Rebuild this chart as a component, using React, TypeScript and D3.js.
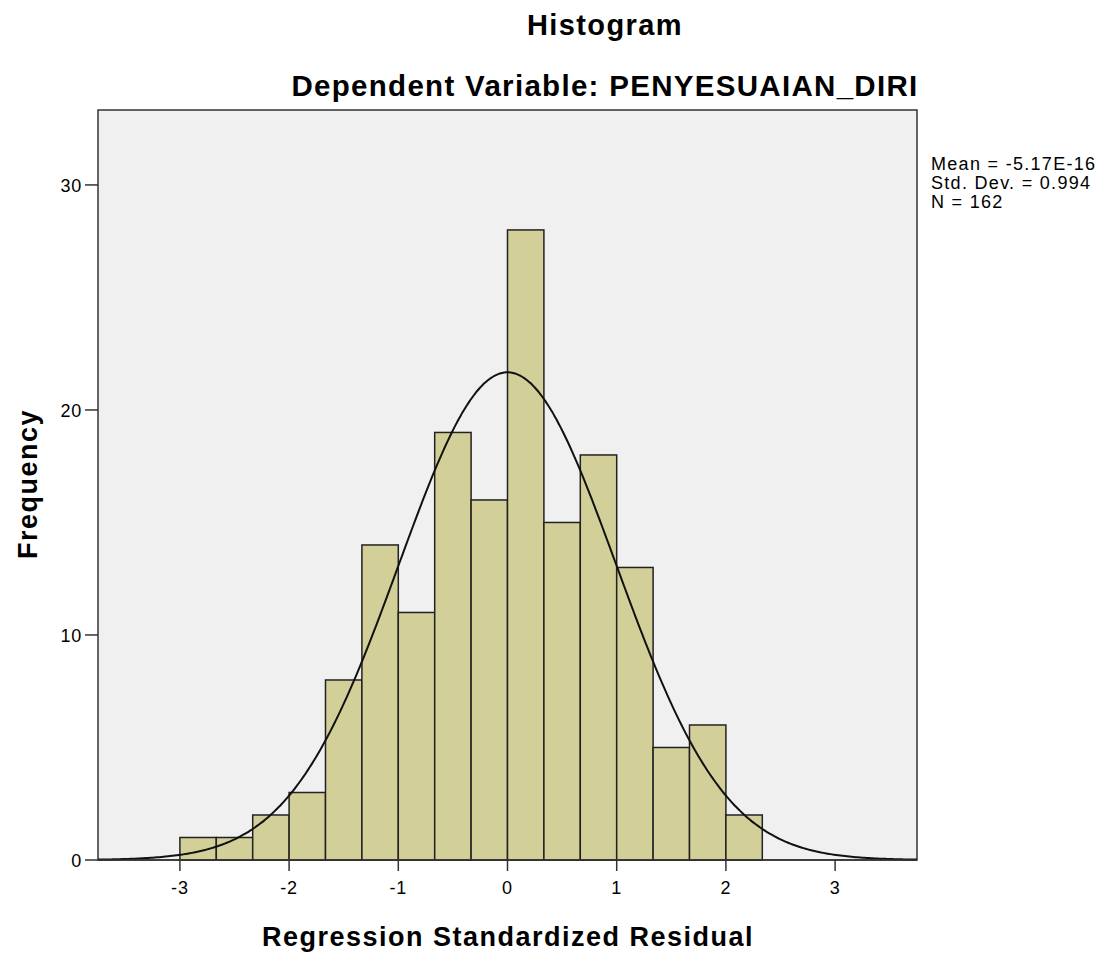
import React from "react";
import * as d3 from "d3";

// histogram bins (lower edges) and counts
const binStarts = [-3, -2.6667, -2.3333, -2, -1.6667, -1.3333, -1, -0.6667, -0.3333, 0, 0.3333, 0.6667, 1, 1.3333, 1.6667, 2];
const binWidth = 1 / 3;
const counts = [1, 1, 2, 3, 8, 14, 11, 19, 16, 28, 15, 18, 13, 5, 6, 2];
const xTicks = [-3, -2, -1, 0, 1, 2, 3];
const yTicks = [0, 10, 20, 30];
const stats = { mean: -5.17e-16, sd: 0.994, n: 162 };
const legendLines = ["Mean = -5.17E-16", "Std. Dev. = 0.994", "N = 162"];

const W = 1114;
const H = 955;
const plot = { left: 98, right: 917, top: 110, bottom: 860 };

export default function App() {
  const x = d3.scaleLinear().domain([-3.75, 3.75]).range([plot.left, plot.right]);
  const y = d3.scaleLinear().domain([0, 33.33]).range([plot.bottom, plot.top]);

  const pdf = (v: number) =>
    (1 / (stats.sd * Math.sqrt(2 * Math.PI))) * Math.exp(-0.5 * ((v - stats.mean) / stats.sd) ** 2);
  const curvePts = d3.range(-3.75, 3.7501, 0.02).map((v) => [v, stats.n * binWidth * pdf(v)] as [number, number]);
  const line = d3
    .line<[number, number]>()
    .x((d) => x(d[0]))
    .y((d) => y(d[1]))
    .curve(d3.curveBasis);

  const font = "'Liberation Sans', Arial, sans-serif";

  return (
    <svg width={W} height={H} style={{ position: "absolute", left: 0, top: 0, fontFamily: font }}>
      <rect x={0} y={0} width={W} height={H} fill="#ffffff" />
      <text x={605} y={35} textAnchor="middle" fontSize={29} fontWeight="bold" letterSpacing={1.4}>
        Histogram
      </text>
      <text x={605} y={96} textAnchor="middle" fontSize={29.5} fontWeight="bold" letterSpacing={1.3}>
        Dependent Variable: PENYESUAIAN_DIRI
      </text>

      <rect
        x={plot.left}
        y={plot.top}
        width={plot.right - plot.left}
        height={plot.bottom - plot.top}
        fill="#f0f0f0"
        stroke="#333"
        strokeWidth={1.5}
      />

      {counts.map((c, i) => (
        <rect
          key={i}
          x={x(binStarts[i])}
          y={y(c)}
          width={x(binStarts[i] + binWidth) - x(binStarts[i])}
          height={y(0) - y(c)}
          fill="#d3cf98"
          stroke="#222"
          strokeWidth={1.5}
        />
      ))}

      <path d={line(curvePts) || ""} fill="none" stroke="#111" strokeWidth={2} />

      {/* x axis */}
      <line x1={plot.left} x2={plot.right} y1={plot.bottom} y2={plot.bottom} stroke="#333" strokeWidth={1.5} />
      {xTicks.map((t) => (
        <g key={t}>
          <line x1={x(t)} x2={x(t)} y1={plot.bottom} y2={plot.bottom + 11} stroke="#333" strokeWidth={1.5} />
          <text x={x(t)} y={plot.bottom + 34} textAnchor="middle" fontSize={18} letterSpacing={0.8}>
            {t}
          </text>
        </g>
      ))}
      {/* y axis */}
      {yTicks.map((t) => (
        <g key={t}>
          <line x1={plot.left - 13} x2={plot.left} y1={y(t)} y2={y(t)} stroke="#333" strokeWidth={1.5} />
          <text x={plot.left - 16} y={y(t) + 7} textAnchor="end" fontSize={18} letterSpacing={0.8}>
            {t}
          </text>
        </g>
      ))}

      <text x={508} y={946} textAnchor="middle" fontSize={27} fontWeight="bold" letterSpacing={1.5}>
        Regression Standardized Residual
      </text>
      <text
        transform={`translate(37, 484) rotate(-90)`}
        textAnchor="middle"
        fontSize={27}
        fontWeight="bold"
        letterSpacing={1.5}
      >
        Frequency
      </text>

      {legendLines.map((s, i) => (
        <text key={i} x={931} y={170 + i * 19} fontSize={18} letterSpacing={1.3}>
          {s}
        </text>
      ))}
    </svg>
  );
}
